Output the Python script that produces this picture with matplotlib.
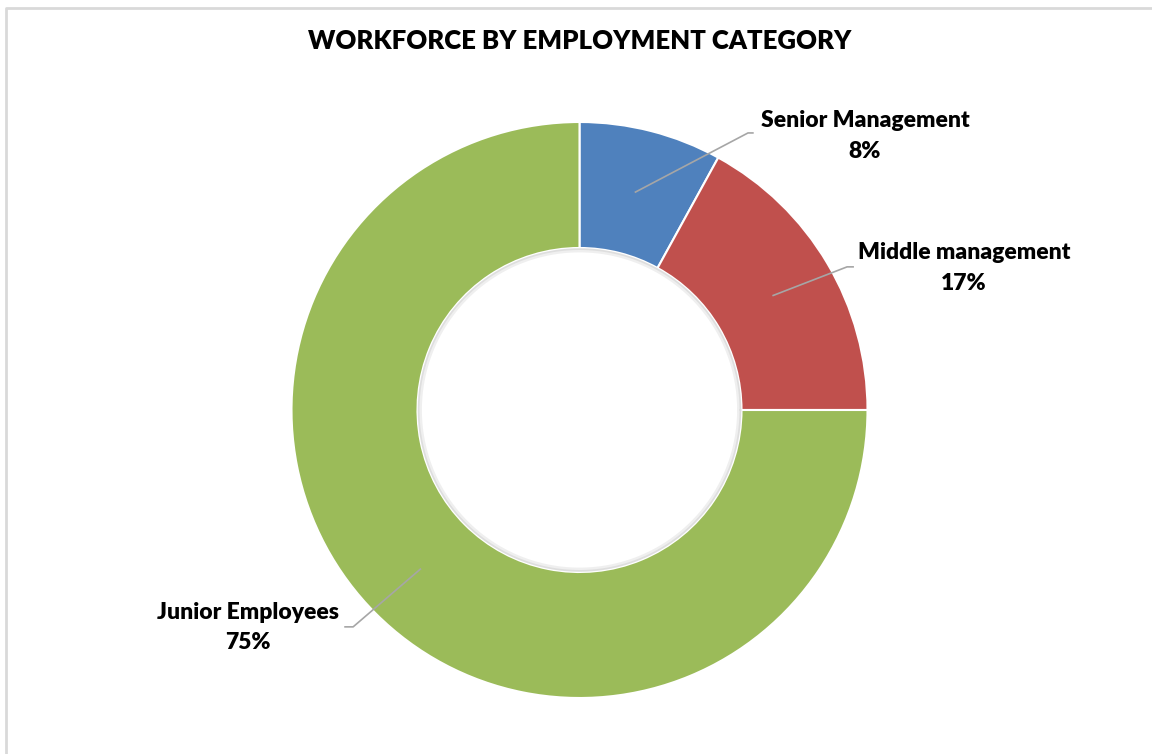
import numpy as np
import matplotlib.pyplot as plt
from matplotlib.lines import Line2D

categories = ['Senior Management', 'Middle management', 'Junior Employees']
shares = [8, 17, 75]
colors = ['#4F81BD', '#C0504D', '#9BBB59']

plt.rcParams['font.family'] = ['Lato', 'DejaVu Sans']

fig = plt.figure(figsize=(11.52, 7.54), dpi=100)
ax = fig.add_axes([0, 0, 1, 1])

ring = 0.4375
wedges, _ = ax.pie(shares, colors=colors, startangle=90, counterclock=False,
                   radius=1, wedgeprops=dict(width=ring, edgecolor='white', linewidth=1.5))

# soft shadow along the inner edge of the ring
hole = 1 - ring
t = np.linspace(0, 2 * np.pi, 400)
ax.plot((hole - 0.008) * np.cos(t), (hole - 0.008) * np.sin(t), color='#7F7F7F', alpha=0.12, lw=3)
ax.plot((hole - 0.004) * np.cos(t), (hole - 0.004) * np.sin(t), color='#7F7F7F', alpha=0.15, lw=1.2)

# label anchors (data units) and leader elbows
label_pos = [(0.991, 0.951), (1.335, 0.493), (-1.151, -0.756)]
elbows = [((0.585, 0.962), (0.602, 0.962)),
          ((0.929, 0.497), (0.950, 0.497)),
          ((-0.786, -0.753), (-0.814, -0.753))]

for w, name, val, (lx, ly), (e1, e2) in zip(wedges, categories, shares, label_pos, elbows):
    mid = np.deg2rad((w.theta1 + w.theta2) / 2)
    r0 = 1 - ring / 2
    sx, sy = r0 * np.cos(mid), r0 * np.sin(mid)
    ax.add_line(Line2D([sx, e1[0], e2[0]], [sy, e1[1], e2[1]], color='#A6A6A6', lw=1.2))
    ax.text(lx, ly, f'{name}\n{val}%', ha='center', va='center', fontsize=16.5,
            fontweight='heavy', color='black', linespacing=1.55)

ax.set_xlim(-579.5 / 288, (1152 - 579.5) / 288)
ax.set_ylim(-(754 - 410) / 288, 410 / 288)
ax.set_aspect('auto')
ax.axis('off')

fig.text(580 / 1152, 1 - 41 / 754, 'WORKFORCE BY EMPLOYMENT CATEGORY', ha='center', va='center',
         fontsize=18.5, fontweight='heavy', color='black')

# chart frame
fig.add_artist(Line2D([6 / 1152, 6 / 1152, 1], [0, 1 - 8 / 754, 1 - 8 / 754],
                      transform=fig.transFigure, color='#D9D9D9', lw=2))

fig.savefig('out.png', dpi=100, facecolor='white')
